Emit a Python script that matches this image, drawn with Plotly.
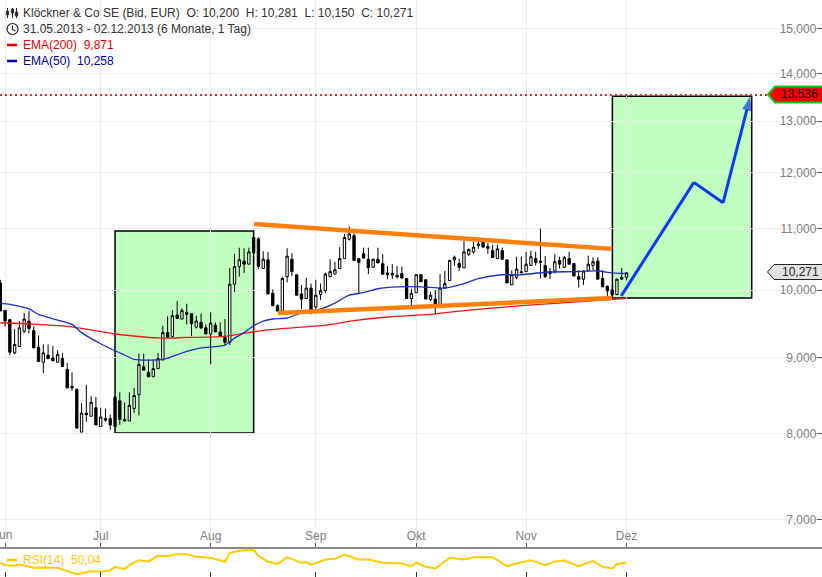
import plotly.graph_objects as go

W, H = 822, 577
FONT = "Liberation Sans"

opens = [10.11,9.69,9.55,9.07,9.16,9.38,9.53,9.39,9.15,8.94,9.04,9.00,8.94,8.99,8.84,8.61,8.57,8.02,8.26,8.22,
         8.33,8.09,8.19,8.19,8.47,8.42,8.18,8.16,8.32,8.50,8.88,8.80,8.74,8.85,8.97,9.36,9.30,9.62,9.56,9.66,
         9.64,9.44,9.51,9.43,9.34,9.47,9.37,9.29,9.22,10.09,10.37,10.46,10.41,10.85,10.83,10.34,10.48,9.95,9.76,9.68,
         10.21,10.49,10.24,9.94,9.87,10.03,9.74,9.93,9.99,10.21,10.25,10.34,10.50,10.82,10.88,10.50,10.58,10.49,10.36,10.49,
         10.42,10.27,10.26,10.23,10.26,10.18,9.87,9.96,10.24,10.16,9.85,9.86,9.78,10.03,10.15,10.48,10.42,10.35,10.57,10.61,
         10.74,10.83,10.70,10.63,10.50,10.63,10.48,10.08,10.20,10.29,10.29,10.39,10.50,10.46,10.39,10.26,10.30,10.47,10.36,10.50,
         10.42,10.21,10.17,10.30,10.39,10.46,10.18,10.06,10.00,9.93,10.17,10.20]
highs = [10.16,9.69,9.56,9.41,9.53,9.65,9.68,9.45,9.32,9.19,9.19,9.17,9.11,9.07,8.93,8.80,8.58,8.39,8.63,8.48,
         8.47,8.33,8.32,8.24,8.47,8.53,8.40,8.53,8.59,9.06,9.06,8.98,8.98,9.07,9.46,9.60,9.69,9.83,9.72,9.79,
         9.65,9.61,9.64,9.48,9.66,9.51,9.51,9.56,10.35,10.58,10.68,10.67,10.68,10.85,10.85,10.62,10.61,10.01,9.78,10.21,
         10.67,10.59,10.24,10.08,10.19,10.10,10.16,10.10,10.27,10.49,10.45,10.69,10.91,11.04,10.92,10.51,10.68,10.68,10.50,10.68,
         10.57,10.38,10.41,10.38,10.37,10.18,10.02,10.25,10.25,10.17,9.97,10.00,10.25,10.30,10.48,10.55,10.50,10.79,10.67,10.78,
         10.79,10.84,10.76,10.73,10.73,10.68,10.48,10.31,10.53,10.53,10.61,10.63,10.61,11.00,10.54,10.35,10.57,10.53,10.54,10.61,
         10.43,10.31,10.31,10.55,10.52,10.52,10.31,10.07,10.00,10.18,10.35,10.281]
lows = [9.68,9.45,9.04,9.05,9.16,9.35,9.35,9.14,8.95,8.79,8.99,8.96,8.94,8.88,8.59,8.55,8.07,8.02,8.15,8.22,
        8.11,8.09,8.15,8.05,8.09,8.11,8.15,8.16,8.26,8.23,8.83,8.74,8.74,8.85,8.97,9.28,9.29,9.56,9.55,9.48,
        9.31,9.42,9.41,9.34,8.91,9.37,9.31,9.18,9.18,9.97,10.21,10.27,10.41,10.60,10.33,10.34,9.94,9.76,9.68,9.68,
        10.12,10.22,9.92,9.71,9.87,9.63,9.69,9.85,9.95,10.20,10.25,10.34,10.50,10.80,10.47,9.95,10.50,10.25,10.35,10.43,
        10.24,10.17,10.17,10.18,10.17,9.87,9.76,9.96,10.13,9.86,9.83,9.63,9.78,10.03,10.15,10.38,10.30,10.35,10.54,10.58,
        10.66,10.68,10.58,10.52,10.50,10.49,10.11,10.08,10.17,10.27,10.29,10.39,10.39,10.18,10.19,10.17,10.26,10.34,10.35,10.41,
        10.22,10.04,10.08,10.30,10.31,10.17,10.05,9.85,9.87,9.92,10.16,10.15]
closes = [9.68,9.53,9.08,9.19,9.43,9.56,9.42,9.14,8.95,9.07,8.99,8.96,9.05,8.88,8.59,8.59,8.07,8.26,8.24,8.40,
          8.11,8.21,8.17,8.11,8.09,8.18,8.16,8.36,8.49,8.91,8.83,8.74,8.85,8.99,9.36,9.29,9.61,9.57,9.69,9.63,
          9.49,9.53,9.43,9.34,9.50,9.37,9.31,9.22,10.09,10.37,10.48,10.41,10.61,10.60,10.37,10.49,9.94,9.76,9.68,10.18,
          10.54,10.29,9.92,9.86,10.03,9.68,9.92,9.99,10.25,10.29,10.32,10.50,10.85,10.91,10.47,10.44,10.51,10.35,10.49,10.43,
          10.25,10.24,10.24,10.21,10.19,9.87,9.95,10.24,10.13,9.86,9.92,9.78,10.03,10.10,10.47,10.52,10.36,10.61,10.65,10.69,
          10.72,10.69,10.67,10.52,10.66,10.49,10.11,10.24,10.33,10.27,10.41,10.53,10.44,10.44,10.21,10.29,10.45,10.41,10.52,10.41,
          10.22,10.17,10.30,10.41,10.45,10.17,10.05,9.99,9.93,10.17,10.20,10.271]
days = list(range(len(closes)))

ema50_days = [0,2,6,8,12,15,17,21,24,26,28,31,34,36,39,42,47,49,51,53,55,57,60,63,67,70,73,76,79,83,88,93,97,100,105,109,114,120,125,128,131]
ema50_vals = [9.80,9.78,9.71,9.63,9.545,9.48,9.36,9.20,9.10,9.04,8.98,8.97,8.98,9.02,9.09,9.14,9.18,9.28,9.36,9.46,9.53,9.56,9.575,9.65,9.71,9.80,9.92,9.96,10.02,10.05,10.05,10.03,10.10,10.18,10.24,10.24,10.28,10.29,10.30,10.27,10.258]
ema200_days = [0,7,15,24,34,39,47,51,56,68,74,81,90,95,109,120,131]
ema200_vals = [9.505,9.485,9.445,9.34,9.28,9.29,9.305,9.35,9.40,9.47,9.535,9.59,9.63,9.67,9.76,9.815,9.871]

rsi_days = [0,1,3,4,7,9,12,14,16,18,19,21,23,24,26,27,29,31,33,35,37,39,41,44,47,48,50,53,54,56,58,60,63,64,65,68,70,72,75,77,80,84,86,87,89,91,94,97,99,103,106,108,111,114,116,118,121,124,126,128,129,131]
rsi_vals = [49.3,44.5,43.1,45.9,39,39.7,39,32.1,25.9,30,32.1,30.7,33.4,41,36.2,44.5,54.8,52.1,63.8,63.1,67.3,67.3,61.7,59.7,51.4,70,74.2,76.2,63.8,51.4,47.2,61,49.3,50.7,45.2,56.2,57.6,66.6,56.2,56.2,49.3,47.9,42.4,50,41,37.6,59.7,56.2,61,61,42.4,47.9,54.8,44.5,52.1,54.1,42.4,53.5,41,37.6,46.6,50.04]

month_days = [1,21,44,66,87,110,131]
month_labels = ["Jun","Jul","Aug","Sep","Okt","Nov","Dez"]
price_ticks = [7,8,9,10,11,12,13,14,15]
price_labels = ["7,000","8,000","9,000","10,000","11,000","12,000","13,000","14,000","15,000"]

trend_top_days = [53.1,128.0]
trend_top_vals = [11.08,10.66]
trend_bot_days = [58.1,128.0]
trend_bot_vals = [9.65,9.876]
arrow_days = [129.9,145.1,151.2,156.9]
arrow_vals = [9.91,11.82,11.45,13.51]
target_days = [-0.06,160.4]
target_vals = [13.536,13.536]
box1_days, box1_vals = [24.0,53.0],[8.01,10.96]
box2_days, box2_vals = [128.05,157.2],[9.876,13.51]

def px(x): return x / W
def py(y): return 1 - y / H
def path(points):
    return "M" + " L".join(f"{px(x):.5f},{py(y):.5f}" for x, y in points) + " Z"

fig = go.Figure()
fig.add_trace(go.Candlestick(x=days, open=opens, high=highs, low=lows, close=closes,
    increasing=dict(line=dict(color="#000", width=1), fillcolor="#fff"),
    decreasing=dict(line=dict(color="#000", width=1), fillcolor="#000"),
    whiskerwidth=0, showlegend=False, hoverinfo="skip"))
fig.add_trace(go.Scatter(x=ema200_days, y=ema200_vals, mode="lines", line=dict(color="#f01818", width=1.3, shape="spline", smoothing=0.7), hoverinfo="skip"))
fig.add_trace(go.Scatter(x=ema50_days, y=ema50_vals, mode="lines", line=dict(color="#1f2fc0", width=1.3, shape="spline", smoothing=0.7), hoverinfo="skip"))
fig.add_trace(go.Scatter(x=target_days, y=target_vals, mode="lines", line=dict(color="#e8292a", width=2, dash="2px,3px"), hoverinfo="skip"))
for dx, dy in ((trend_top_days, trend_top_vals), (trend_bot_days, trend_bot_vals)):
    fig.add_trace(go.Scatter(x=dx, y=dy, mode="lines", line=dict(color="#ff7f0a", width=4.5), hoverinfo="skip"))
fig.add_trace(go.Scatter(x=arrow_days, y=arrow_vals, mode="lines+markers",
    line=dict(color="#0a3cf0", width=3),
    marker=dict(symbol="arrow", angleref="previous", size=[0,0,0,15], color="#0a3cf0", line=dict(width=0)),
    hoverinfo="skip"))
fig.add_trace(go.Scatter(x=rsi_days, y=rsi_vals, xaxis="x2", yaxis="y2", mode="lines",
    line=dict(color="#ffcc00", width=2), hoverinfo="skip"))

shapes = []
for dx, dy in ((box1_days, box1_vals), (box2_days, box2_vals)):
    shapes.append(dict(type="rect", xref="x", yref="y", x0=dx[0], x1=dx[1], y0=dy[0], y1=dy[1],
                       layer="below", fillcolor="rgba(150,255,150,0.6)", line=dict(color="#000", width=1.5)))
# white strip behind the price labels
shapes.append(dict(type="rect", xref="paper", yref="paper", x0=px(778), x1=1, y0=py(545), y1=1,
                   layer="below", fillcolor="#fff", line=dict(width=0)))
# price tags
shapes.append(dict(type="path", xref="paper", yref="paper", layer="above",
                   path=path([(768,94.5),(775,86.5),(823,86.5),(823,102.5),(775,102.5)]),
                   fillcolor="#ff0000", line=dict(color="#10c810", width=2)))
shapes.append(dict(type="path", xref="paper", yref="paper", layer="above",
                   path=path([(767.5,272),(774,264.5),(823,264.5),(823,279.5),(774,279.5)]),
                   fillcolor="#e2e2e2", line=dict(color="#222", width=1)))
# legend dashes
for y, c in ((45,"#f00000"),(61,"#0000b0")):
    shapes.append(dict(type="line", xref="paper", yref="paper", x0=px(7), x1=px(17), y0=py(y), y1=py(y), line=dict(color=c, width=2.5)))
shapes.append(dict(type="line", xref="paper", yref="paper", x0=px(7), x1=px(17), y0=py(560), y1=py(560), line=dict(color="#ffcc00", width=2.5)))
# instrument icon
for x, a, b, c, d in ((7.5,8,18,11,15),(12.5,8,18,9,13),(16.5,8,18,12,16)):
    shapes.append(dict(type="line", xref="paper", yref="paper", x0=px(x), x1=px(x), y0=py(a), y1=py(b), line=dict(color="#222", width=1)))
    shapes.append(dict(type="rect", xref="paper", yref="paper", x0=px(x-1.3), x1=px(x+1.3), y0=py(c), y1=py(d), fillcolor="#222", line=dict(color="#222", width=0.5)))
# clock icon
shapes.append(dict(type="circle", xref="paper", yref="paper", x0=px(7), x1=px(18), y0=py(23.5), y1=py(34.5), line=dict(color="#222", width=1.2)))
shapes.append(dict(type="path", xref="paper", yref="paper", path=f"M{px(12.5):.5f},{py(25.5):.5f} L{px(12.5):.5f},{py(29.5):.5f} L{px(15.5):.5f},{py(31):.5f}", line=dict(color="#222", width=1.1)))

def note(x, y, text, color="#333", size=12):
    return dict(xref="paper", yref="paper", x=px(x), y=py(y), xanchor="left", yanchor="middle",
                text=text, showarrow=False, font=dict(family=FONT, size=size, color=color), borderpad=0, borderwidth=0)

annotations = [
    note(23, 13, "Klöckner &amp; Co SE (Bid, EUR)&nbsp;&nbsp;O: 10,200&nbsp;&nbsp;H: 10,281&nbsp;&nbsp;L: 10,150&nbsp;&nbsp;C: 10,271"),
    note(23, 29, "31.05.2013 - 02.12.2013 (6 Monate, 1 Tag)"),
    note(23, 45, "EMA(200)&nbsp;&nbsp;9,871", "#f00000"),
    note(23, 61, "EMA(50)&nbsp;&nbsp;10,258", "#0000b0"),
    note(23, 560, "RSI(14)&nbsp;&nbsp;50,04", "#ffcc00"),
    note(781, 94.5, "13,536", "#000"),
    note(782, 272, "10,271", "#222"),
    note(-7, 535, "Jun", "#808080"),
]

fig.update_layout(
    width=W, height=H, margin=dict(l=0, r=0, t=0, b=0), autosize=False,
    paper_bgcolor="#fff", plot_bgcolor="#fff", showlegend=False,
    font=dict(family=FONT, size=12, color="#808080"),
    shapes=shapes, annotations=annotations,
    xaxis=dict(domain=[0,1], range=[-0.063,171.9], anchor="y", rangeslider=dict(visible=False),
               tickmode="array", tickvals=month_days, ticktext=month_labels,
               ticks="inside", ticklen=4, tickcolor="#555", tickwidth=1,
               ticklabelposition="inside", tickfont=dict(family=FONT, size=12, color="#808080"),
               showgrid=True, gridcolor="#ececec", gridwidth=1,
               showline=True, linecolor="#888", linewidth=1.5, zeroline=False),
    yaxis=dict(domain=[1-547/H,1], type="log", range=[0.8267,1.1956], side="right", anchor="x",
               tickmode="array", tickvals=price_ticks, ticktext=price_labels,
               ticks="inside", ticklen=5, tickcolor="#555", tickwidth=1,
               ticklabelposition="inside", tickfont=dict(family=FONT, size=12, color="#808080"),
               showgrid=True, gridcolor="#ececec", gridwidth=1, showline=False, zeroline=False),
    xaxis2=dict(domain=[0,1], matches="x", anchor="y2", tickmode="array", tickvals=month_days, ticktext=[""]*len(month_days),
                ticks="inside", ticklen=5, tickcolor="#333", showgrid=False, showline=False, zeroline=False),
    yaxis2=dict(domain=[0,29/H], range=[20,80], visible=False, anchor="x2"),
)
fig.write_html("out.html", config=dict(displayModeBar=False),
               post_script="document.body.style.margin='0';document.body.style.overflow='hidden';")
